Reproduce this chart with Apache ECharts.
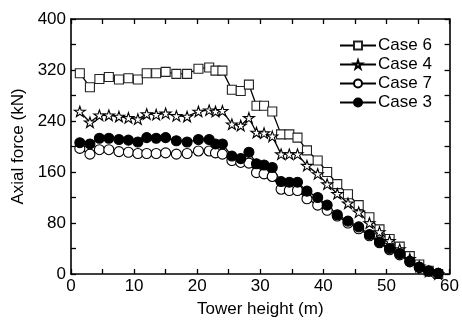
<!DOCTYPE html>
<html><head><meta charset="utf-8">
<script src="https://cdn.jsdelivr.net/npm/echarts@6/dist/echarts.min.js"></script>
<style>html,body{margin:0;padding:0;background:#fff}#c{width:462px;height:323px}</style>
</head><body><div id="c"></div>
<script>
var heights = [1.4,3.0,4.5,6.0,7.6,9.1,10.6,12.0,13.5,15.0,16.7,18.4,20.2,21.9,22.9,24.0,25.5,26.9,28.2,29.4,30.6,31.9,33.3,34.6,35.9,37.4,39.1,40.6,42.2,43.9,45.6,47.3,48.9,50.5,52.1,53.7,55.2,56.7,58.2];
var case6 = [315,293,306,309,305,307,305,315,315,317,314,314,322,324,319,319,289,287,297,264,264,255,219,219,214,194,178,160,141,125,108,89,70,55,43,28,15,5,0];
var case4 = [255,238,249,249,247,245,243,251,250,252,248,247,255,257,255,256,235,233,245,222,221,216,188,188,188,170,157,141,126,111,97,80,66,52,39,24,12,4,0];
var case7 = [197,188,195,195,192,191,189,189,189,190,188,189,193,193,190,188,178,175,174,159,157,153,133,131,131,118,108,100,91,80,71,60,49,38,30,19,10,4,1];
var case3 = [206,204,213,213,211,210,207,214,213,214,209,207,211,211,204,204,185,181,191,173,171,167,145,144,144,130,120,108,93,83,74,62,50,40,32,20,11,5,1];
var names = ['Case 6','Case 4','Case 7','Case 3'];
var xTicks = {min:0,max:60,interval:10};
var yTicks = {min:0,max:400,interval:80};

function pairs(v){return heights.map(function(h,i){return [h,v[i]];});}
var star = 'path://M100 0 L122.5 69.1 L195.1 69.1 L136.3 111.8 L158.8 180.9 L100 138.2 L41.2 180.9 L63.7 111.8 L4.9 69.1 L77.5 69.1 Z';
var FONT = 'Liberation Sans, Arial, sans-serif';
var FS = 17;
function mk(name, data, symbol, size, fill, border){
  return {name:name,type:'line',data:pairs(data),symbol:symbol,symbolSize:size,symbolKeepAspect:true,
    showAllSymbol:true,lineStyle:{color:'#000',width:1.3},
    itemStyle:{color:fill,borderColor:border,borderWidth:1.1},emphasis:{disabled:true},z:2};
}
var axisCommon = {axisLine:{show:true,onZero:false,lineStyle:{color:'#000',width:1.6}},
  axisTick:{show:true,inside:true,length:5,lineStyle:{color:'#000',width:1.3}},
  minorTick:{show:true,splitNumber:2,length:5,lineStyle:{color:'#000',width:1.3}},
  splitLine:{show:false}};
var chart = echarts.init(document.getElementById('c'),null,{renderer:'canvas'});
chart.setOption({
  animation:false,
  backgroundColor:'#fff',
  textStyle:{fontFamily:FONT},
  grid:{left:71,right:9,top:19,bottom:47,containLabel:false},
  legend:{data:names,orient:'vertical',left:334,top:32,itemWidth:36,itemHeight:10,itemGap:2,
    textStyle:{fontFamily:FONT,fontSize:FS,color:'#000',padding:[0,0,0,-3]}},
  xAxis:[Object.assign({type:'value',min:xTicks.min,max:xTicks.max,interval:xTicks.interval,position:'bottom',
      name:'Tower height (m)',nameLocation:'middle',nameGap:27,
      nameTextStyle:{fontFamily:FONT,fontSize:FS,color:'#000'},
      axisLabel:{fontFamily:FONT,fontSize:FS,color:'#000',margin:4}},axisCommon),
    Object.assign({type:'value',min:xTicks.min,max:xTicks.max,interval:xTicks.interval,position:'top',
      axisLabel:{show:false}},axisCommon)],
  yAxis:[Object.assign({type:'value',min:yTicks.min,max:yTicks.max,interval:yTicks.interval,position:'left',
      name:'Axial force (kN)',nameLocation:'middle',nameGap:35,
      nameTextStyle:{fontFamily:FONT,fontSize:FS,color:'#000'},
      axisLabel:{fontFamily:FONT,fontSize:FS,color:'#000',margin:5}},axisCommon),
    Object.assign({type:'value',min:yTicks.min,max:yTicks.max,interval:yTicks.interval,position:'right',
      axisLabel:{show:false}},axisCommon)],
  series:[
    mk('Case 6',case6,'rect',9,'#fff','#222'),
    mk('Case 4',case4,star,11,'#fff','#000'),
    mk('Case 7',case7,'circle',10,'#fff','#000'),
    mk('Case 3',case3,'circle',10,'#000','#000')
  ]
});
</script></body></html>
